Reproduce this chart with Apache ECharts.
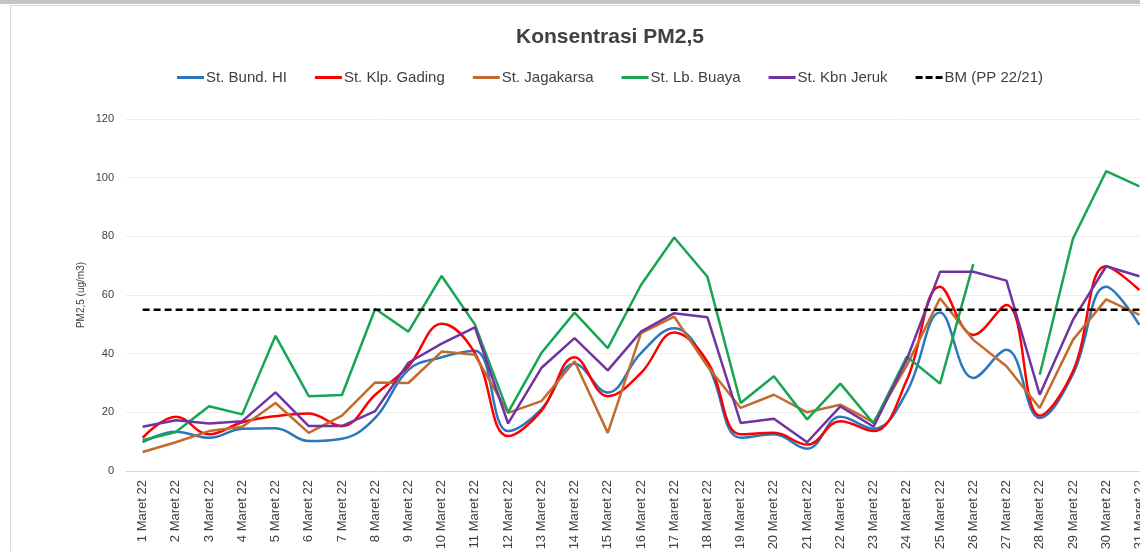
<!DOCTYPE html>
<html>
<head>
<meta charset="utf-8">
<script src="https://cdn.jsdelivr.net/npm/echarts@6/dist/echarts.min.js"></script>
<style>
  html, body { margin: 0; padding: 0; width: 1140px; height: 551px; overflow: hidden; background: #fff; }
  #topbar { position: absolute; left: 0; top: 0; width: 1140px; height: 4px; background: #c4c4c4; }
  #chart { position: absolute; left: 10px; top: 5px; width: 1200px; height: 560px; border: 1px solid #d9d9d9; box-sizing: border-box; }
</style>
</head>
<body>
<div id="topbar"></div>
<div id="chart"></div>
<script>
const days = []
for (let d = 1; d <= 31; d++) days.push(d + " Maret 22")

const bundHI    = [9.8, 13.4, 11.3, 14.4, 14.6, 10.2, 11, 18.1, 34.5, 38.8, 41, 13.6, 21, 36.6, 26.8, 40.2, 48.7, 36.2, 11.3, 12.5, 7.6, 18.5, 14.4, 27, 54, 31.7, 41.3, 18.1, 33, 62.8, 49.8]
const klpGading = [11.3, 18.5, 12.5, 16.6, 18.7, 19.6, 15.3, 26, 35.7, 50.2, 40.2, 11.9, 20.5, 38.8, 25.5, 33.4, 47.2, 37.3, 12.5, 13, 9, 17, 13.6, 31, 62.8, 46.4, 56.6, 18.9, 34, 69.8, 61.7]
const jagakarsa = [6.5, 9.8, 13.6, 15.1, 23.2, 13, 18.9, 30.2, 30, 40.7, 39.6, 19.8, 23.8, 37.4, 13, 47, 52.6, 35.7, 21.5, 26, 20, 22.6, 16.6, 36, 58.9, 44.7, 35.7, 21.5, 44.7, 58.5, 53.2]
const lbBuaya   = [10.5, 13.3, 22.1, 19.3, 46.1, 25.5, 25.9, 55.3, 47.5, 66.5, 50, 20, 40.2, 54, 41.9, 63.4, 79.6, 66.2, 23.2, 32.3, 17.6, 29.8, 16.2, 39, 29.8, 70.5, null, 32.8, 79.2, 102.2, 97]
const kbnJeruk  = [15.1, 17.3, 16.2, 17, 26.8, 15.3, 15.3, 20.4, 36.9, 43.4, 49, 16.2, 35.1, 45.3, 34.3, 47.5, 53.8, 52.4, 16.4, 17.8, 9.8, 22, 15.1, 38, 67.9, 67.9, 64.9, 26, 51.5, 69.8, 66.4]
const bm = days.map(() => 55)

const chart = echarts.init(document.getElementById("chart"))

const font = "'Liberation Sans', Arial, sans-serif"

const line = (name, data, color, smooth) => ({
    name, type: "line", data,
    smooth: smooth ? 0.4 : false,
    showSymbol: false, symbol: "none",
    lineStyle: {width: 2.5, color},
    itemStyle: {color}
})

chart.setOption({
    animation: false,
    title: {
        text: "Konsentrasi PM2,5",
        left: "center", top: 16,
        textStyle: {fontFamily: font, fontSize: 21, fontWeight: "bold", color: "#404040"}
    },
    legend: {
        top: 59, left: "center",
        itemWidth: 27, itemHeight: 3, itemGap: 28,
        icon: "rect",
        textStyle: {fontFamily: font, fontSize: 15, color: "#404040", padding: [0, 0, 0, -3]},
        data: [
            {name: "St. Bund. HI"},
            {name: "St. Klp. Gading"},
            {name: "St. Jagakarsa"},
            {name: "St. Lb. Buaya"},
            {name: "St. Kbn Jeruk"},
            {name: "BM (PP 22/21)", icon: "path://M0,0h7v3h-7z M10,0h7v3h-7z M20,0h7v3h-7z"}
        ]
    },
    grid: {left: 115, right: 53, top: 113, bottom: 93},
    xAxis: {
        type: "category",
        data: days,
        boundaryGap: true,
        axisLine: {lineStyle: {color: "#d9d9d9", width: 1}},
        axisTick: {show: false},
        axisLabel: {rotate: 90, fontFamily: font, fontSize: 13, color: "#404040", interval: 0, margin: 9}
    },
    yAxis: {
        type: "value",
        min: 0, max: 120, interval: 20,
        name: "PM2,5 (ug/m3)",
        nameLocation: "middle",
        nameGap: 40,
        nameMoveOverlap: false,
        nameTextStyle: {fontFamily: font, fontSize: 10, color: "#404040"},
        axisLine: {show: false},
        axisTick: {show: false},
        axisLabel: {fontFamily: font, fontSize: 11, color: "#404040", margin: 12},
        splitLine: {lineStyle: {color: "#ececec", width: 1}}
    },
    series: [
        line("St. Bund. HI", bundHI, "#2a77bd", true),
        line("St. Klp. Gading", klpGading, "#ff0000", true),
        line("St. Jagakarsa", jagakarsa, "#c46a2c", false),
        line("St. Lb. Buaya", lbBuaya, "#18a553", false),
        line("St. Kbn Jeruk", kbnJeruk, "#7233a2", false),
        {
            name: "BM (PP 22/21)", type: "line", data: bm,
            showSymbol: false, symbol: "none",
            lineStyle: {width: 2.5, color: "#000", type: [7, 4]},
            itemStyle: {color: "#000"}
        }
    ]
})
</script>
</body>
</html>
